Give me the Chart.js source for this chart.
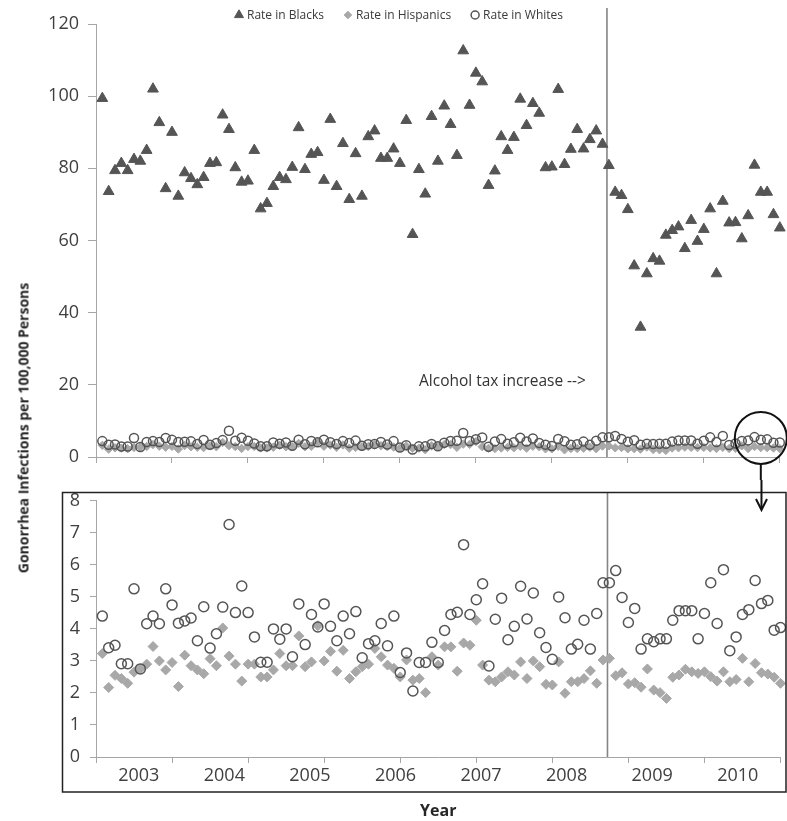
<!DOCTYPE html>
<html>
<head>
<meta charset="utf-8">
<script src="https://cdn.jsdelivr.net/npm/chart.js@4.4.1/dist/chart.umd.min.js"></script>
<style>
  html, body { margin: 0; padding: 0; background: #fff; }
  #page { position: relative; width: 787px; height: 821px; overflow: hidden; background: #fff; }
  #topChart { position: absolute; left: 0; top: 0; }
  #bottomChart { position: absolute; left: 0; top: 480px; }
  #yTitle {
    position: absolute; left: 23px; top: 428px;
    transform: translate(-50%, -50%) rotate(-90deg);
    white-space: nowrap; font: bold 14px 'Open Sans', sans-serif; color: #262626;
  }
</style>
</head>
<body>
<div id="page">
  <canvas id="topChart" width="787" height="480"></canvas>
  <canvas id="bottomChart" width="787" height="341"></canvas>
  <div id="yTitle">Gonorrhea Infections per 100,000 Persons</div>
</div>
<script>
// monthly rates per 100,000 (108 months)
const years = ['2003', '2004', '2005', '2006', '2007', '2008', '2009', '2010'];

const blacks = [
  99.4, 73.6, 79.4, 81.4, 79.4, 82.5, 82.0, 85.0, 102.0, 92.7,
  74.4, 90.0, 72.3, 78.8, 77.2, 75.5, 77.5, 81.4, 81.6, 94.8,
  90.8, 80.2, 76.2, 76.5, 85.0, 68.8, 70.3, 75.0, 77.5, 76.9,
  80.3, 91.3, 79.7, 83.9, 84.4, 76.7, 93.6, 75.0, 86.9, 71.4,
  84.1, 72.3, 88.8, 90.4, 82.8, 82.8, 85.4, 81.4, 93.3, 61.7,
  79.7, 72.9, 94.4, 82.0, 97.3, 92.2, 83.6, 112.6, 97.5, 106.4,
  104.0, 75.3, 79.3, 88.8, 85.0, 88.6, 99.2, 91.9, 98.0, 95.3,
  80.2, 80.4, 101.9, 81.1, 85.3, 90.8, 85.4, 88.0, 90.4, 86.7,
  80.8, 73.4, 72.5, 68.6, 53.0, 36.0, 50.8, 55.0, 54.3, 61.5,
  62.8, 63.8, 57.8, 65.6, 59.8, 63.1, 68.8, 50.8, 70.9, 64.9,
  65.0, 60.5, 66.9, 80.9, 73.4, 73.4, 67.2, 63.5
];

const hispanics = [
  3.23, 2.17, 2.55, 2.45, 2.30, 2.65, 2.75, 2.90, 3.45, 3.00,
  2.72, 2.95, 2.20, 3.18, 2.85, 2.72, 2.60, 3.07, 2.85, 4.03,
  3.15, 2.90, 2.37, 2.90, 2.90, 2.50, 2.50, 2.72, 3.23, 2.85,
  2.85, 3.78, 2.82, 2.97, 4.10, 3.00, 3.30, 2.68, 3.33, 2.45,
  2.66, 2.82, 2.90, 3.39, 3.13, 2.87, 2.77, 2.50, 3.03, 2.40,
  2.45, 2.01, 3.13, 2.87, 3.44, 3.44, 2.68, 3.56, 3.49, 4.27,
  2.87, 2.40, 2.35, 2.50, 2.66, 2.56, 2.97, 2.45, 3.00, 2.82,
  2.27, 2.25, 2.97, 1.99, 2.35, 2.35, 2.45, 2.69, 2.30, 3.03,
  3.08, 2.54, 2.63, 2.28, 2.32, 2.18, 2.75, 2.09, 2.01, 1.83,
  2.49, 2.56, 2.74, 2.66, 2.61, 2.66, 2.51, 2.37, 2.66, 2.35,
  2.42, 3.08, 2.35, 2.92, 2.63, 2.59, 2.49, 2.30
];

const whites = [
  4.40, 3.41, 3.49, 2.91, 2.91, 5.25, 2.75, 4.16, 4.40, 4.16,
  5.25, 4.75, 4.18, 4.25, 4.34, 3.63, 4.69, 3.40, 3.85, 4.68,
  7.26, 4.51, 5.34, 4.51, 3.75, 2.96, 2.96, 4.00, 3.68, 4.00,
  3.13, 4.78, 3.51, 4.45, 4.06, 4.78, 4.08, 3.63, 4.40, 3.85,
  4.54, 3.10, 3.54, 3.63, 4.17, 3.47, 4.40, 2.64, 3.25, 2.06,
  2.95, 2.95, 3.58, 2.95, 3.95, 4.45, 4.52, 6.63, 4.45, 4.91,
  5.41, 2.84, 4.30, 4.96, 3.66, 4.08, 5.33, 4.31, 5.12, 3.88,
  3.42, 3.05, 5.00, 4.35, 3.37, 3.52, 4.27, 3.37, 4.48, 5.44,
  5.44, 5.82, 4.98, 4.20, 4.64, 3.37, 3.69, 3.60, 3.69, 3.69,
  4.27, 4.57, 4.57, 4.57, 3.69, 4.48, 5.44, 4.17, 5.85, 3.32,
  3.75, 4.45, 4.60, 5.51, 4.79, 4.89, 3.96, 4.04
];

const taxIncreaseMonth = 80.7;   // where the vertical marker sits on the month axis
const zoomSpot = { x: 105, y: 5.3 }; // centre of the circled region in the top panel

const axisGray = '#a6a6a6';
const textGray = '#404040';
const darkMark = '#555555';
const lightMark = '#a8a8a8';

Chart.defaults.font.family = "'Open Sans', sans-serif";
Chart.defaults.color = textGray;

const toPoints = vals => vals.map((v, i) => ({ x: i + 1, y: v }));

function seriesSets(withBlacks, size) {
  const sets = [];
  if (withBlacks) {
    sets.push({
      label: 'Rate in Blacks', data: toPoints(blacks), order: 2,
      pointStyle: 'triangle', pointRadius: 6.2,
      backgroundColor: darkMark, borderColor: darkMark, borderWidth: 1
    });
  }
  sets.push({
    label: 'Rate in Hispanics', data: toPoints(hispanics), order: 1,
    pointStyle: 'rectRot', pointRadius: size.diamond,
    backgroundColor: lightMark, borderColor: lightMark, borderWidth: 1
  });
  sets.push({
    label: 'Rate in Whites', data: toPoints(whites), order: 0,
    pointStyle: 'circle', pointRadius: size.circle,
    backgroundColor: 'rgba(0,0,0,0)', borderColor: darkMark, borderWidth: 1.5
  });
  sets.forEach(s => { s.clip = false; s.pointHoverRadius = s.pointRadius; });
  return sets;
}

function monthAxis(height) {
  return {
    type: 'linear', min: 0, max: 108,
    ticks: { display: false, stepSize: 12 },
    grid: { drawOnChartArea: false, drawTicks: true, tickLength: 6, color: axisGray },
    border: { color: axisGray },
    afterFit(scale) { scale.height = height; }
  };
}

function taxLine(chart, fromY) {
  const { ctx, scales: { x }, chartArea } = chart;
  const px = x.getPixelForValue(taxIncreaseMonth);
  ctx.save();
  ctx.strokeStyle = '#858585';
  ctx.lineWidth = 1.6;
  ctx.beginPath();
  ctx.moveTo(px, fromY);
  ctx.lineTo(px, chartArea.bottom);
  ctx.stroke();
  ctx.restore();
  return px;
}

const topDecor = {
  id: 'topDecor',
  beforeDatasetsDraw(chart) {
    taxLine(chart, 8);
  },
  afterDraw(chart) {
    const { ctx, scales: { x, y } } = chart;
    const px = x.getPixelForValue(taxIncreaseMonth);
    ctx.save();
    // annotation text
    ctx.font = "15.5px 'Open Sans', sans-serif";
    ctx.fillStyle = '#333';
    ctx.textAlign = 'right';
    ctx.textBaseline = 'middle';
    ctx.fillText('Alcohol tax increase -->', px - 21, y.getPixelForValue(21));

    // legend row
    ctx.font = "12px 'Open Sans', sans-serif";
    ctx.textAlign = 'left';
    let lx = 239;
    const ly = 15;
    const legendSize = { triangle: 5.2, rectRot: 3.8, circle: 4 };
    chart.data.datasets.forEach(ds => {
      ctx.fillStyle = ds.backgroundColor;
      ctx.strokeStyle = ds.borderColor;
      ctx.lineWidth = ds.pointStyle === 'circle' ? 1.5 : 1;
      Chart.helpers.drawPoint(ctx, {
        pointStyle: ds.pointStyle, radius: legendSize[ds.pointStyle], rotation: 0,
        borderWidth: ctx.lineWidth
      }, lx, ly);
      ctx.fillStyle = '#3a3a3a';
      ctx.fillText(ds.label, lx + 8, ly + 1);
      lx += 8 + ctx.measureText(ds.label).width + 24;
    });

    // circled region and the start of the arrow
    const cx = x.getPixelForValue(zoomSpot.x);
    const cy = y.getPixelForValue(zoomSpot.y);
    ctx.strokeStyle = '#111';
    ctx.lineWidth = 2;
    ctx.beginPath();
    ctx.arc(cx, cy, 26, 0, Math.PI * 2);
    ctx.stroke();
    ctx.beginPath();
    ctx.moveTo(cx, cy + 26);
    ctx.lineTo(cx, chart.height);
    ctx.stroke();
    ctx.restore();
  }
};

const bottomDecor = {
  id: 'bottomDecor',
  beforeDatasetsDraw(chart) {
    taxLine(chart, 12.5);
  },
  afterDraw(chart) {
    const { ctx, scales: { x } } = chart;
    ctx.save();
    // frame round the lower panel
    ctx.strokeStyle = '#222';
    ctx.lineWidth = 1.5;
    ctx.strokeRect(62.5, 12.5, 786 - 62.5, 312 - 12.5);
    // rest of the arrow
    const cx = x.getPixelForValue(zoomSpot.x);
    ctx.strokeStyle = '#111';
    ctx.lineWidth = 2;
    ctx.beginPath();
    ctx.moveTo(cx, 0);
    ctx.lineTo(cx, 29);
    ctx.stroke();
    ctx.beginPath();
    ctx.moveTo(cx - 5.5, 19);
    ctx.lineTo(cx, 30);
    ctx.lineTo(cx + 5.5, 19);
    ctx.stroke();
    ctx.restore();
  }
};

new Chart(document.getElementById('topChart'), {
  type: 'scatter',
  data: { datasets: seriesSets(true, { diamond: 4.2, circle: 4.5 }) },
  options: {
    responsive: false, animation: false, devicePixelRatio: 1,
    layout: { padding: { top: 24, right: 4, bottom: 0, left: 0 } },
    plugins: { legend: { display: false }, tooltip: { enabled: false } },
    scales: {
      x: monthAxis(23),
      y: {
        min: 0, max: 120,
        ticks: { stepSize: 20, font: { size: 18 }, padding: 9, color: textGray },
        grid: { drawOnChartArea: false, tickLength: 8, color: axisGray },
        border: { color: axisGray },
        afterFit(scale) { scale.width = 96; }
      }
    }
  },
  plugins: [topDecor]
});

new Chart(document.getElementById('bottomChart'), {
  type: 'scatter',
  data: { datasets: seriesSets(false, { diamond: 5, circle: 5 }) },
  options: {
    responsive: false, animation: false, devicePixelRatio: 1,
    layout: { padding: { top: 20, right: 4, bottom: 0, left: 0 } },
    plugins: { legend: { display: false }, tooltip: { enabled: false } },
    scales: {
      x: monthAxis(6),
      years: {
        type: 'category', labels: years, offset: true, position: 'bottom',
        grid: { display: false, drawTicks: false },
        border: { display: false },
        ticks: { font: { size: 18 }, padding: 2, autoSkip: false, maxRotation: 0, color: textGray },
        title: { display: true, text: 'Year', font: { size: 16, weight: 'bold' }, color: '#262626', padding: 0 },
        afterFit(scale) { scale.height = 58; }
      },
      y: {
        min: 0, max: 8,
        ticks: { stepSize: 1, font: { size: 18 }, padding: 10, color: textGray },
        grid: { drawOnChartArea: false, tickLength: 6, color: axisGray },
        border: { color: axisGray },
        afterFit(scale) { scale.width = 96; }
      }
    }
  },
  plugins: [bottomDecor]
});
</script>
</body>
</html>
